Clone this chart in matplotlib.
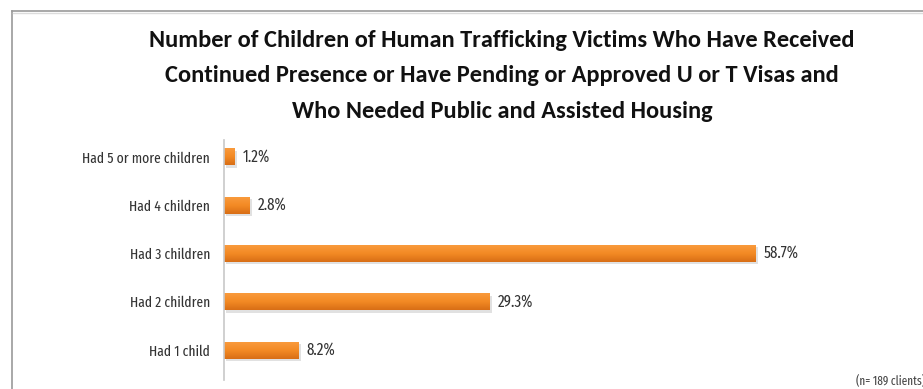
import numpy as np
import matplotlib.pyplot as plt
from matplotlib.lines import Line2D
from matplotlib.colors import LinearSegmentedColormap

# Data
categories = ["Had 1 child", "Had 2 children", "Had 3 children",
              "Had 4 children", "Had 5 or more children"]
percents = [8.2, 29.3, 58.7, 2.8, 1.2]
title = ("Number of Children of Human Trafficking Victims Who Have Received\n"
         "Continued Presence or Have Pending or Approved U or T Visas and\n"
         "Who Needed Public and Assisted Housing")
note = "(n= 189 clients)"

W, H = 923, 389
fig = plt.figure(figsize=(W / 100, H / 100), dpi=100)
title_font = ["Carlito", "DejaVu Sans"]
font = ["Fira Sans Extra Condensed", "Carlito", "DejaVu Sans"]

# frame around the chart (left and top edges visible)
fig.add_artist(Line2D([12 / W, 12 / W], [0, 1 - 11 / H], color="#9a9a9a", lw=1.2))
fig.add_artist(Line2D([12 / W, 1], [1 - 11 / H, 1 - 11 / H], color="#9a9a9a", lw=1.2))
fig.add_artist(Line2D([13 / W, 1], [1 - 13 / H, 1 - 13 / H], color="#dcdcdc", lw=1.0))

fig.text(502 / W, 1 - 76 / H, title, ha="center", va="center",
         family=title_font, fontweight="bold", fontsize=17.6, linespacing=1.84,
         color="#111111")

# axes placement in pixels
left, right, top, bottom = 224, 880, 140, 380
ax = fig.add_axes([left / W, 1 - bottom / H, (right - left) / W, (bottom - top) / H])

y = np.arange(len(categories))
bh = 0.35
bars = ax.barh(y, percents, height=bh, color="none", edgecolor="none", zorder=2)

# soft drop shadow under each bar
ax.barh(y - 0.05, percents, height=bh, left=0.25, color="#bdbdbd",
        alpha=0.45, edgecolor="none", zorder=1)

# vertical orange gradient fill, clipped to each bar
grad = LinearSegmentedColormap.from_list("bar", ["#d86e16", "#f38a24", "#f99a3c"])
for b in bars:
    x0, y0 = b.get_x(), b.get_y()
    im = ax.imshow(np.linspace(0, 1, 64).reshape(-1, 1), cmap=grad,
                   extent=[x0, x0 + b.get_width(), y0, y0 + b.get_height()],
                   origin="lower", aspect="auto", zorder=2)
    im.set_clip_path(b)

for yi, v in zip(y, percents):
    ax.text(v + 0.9, yi, f"{v:.1f}%", va="center", ha="left",
            family=font, fontsize=11.8, color="#333333")

ax.set_xlim(0, (right - left) / 9.06)
ax.set_ylim(-0.62, 4.35)
ax.set_yticks(y)
ax.set_yticklabels(categories, family=font, fontsize=10.6, color="#333333")
ax.tick_params(axis="y", length=0, pad=10)
ax.set_xticks([])
for s in ["top", "right", "bottom"]:
    ax.spines[s].set_visible(False)
ax.spines["left"].set_color("#c8c8c8")
ax.spines["left"].set_linewidth(1.2)

fig.text(1 + 2 / W, 1 - 381 / H, note, ha="right", va="center",
         family=font, fontsize=8.8, color="#444444")

fig.savefig("out.png", dpi=100)
